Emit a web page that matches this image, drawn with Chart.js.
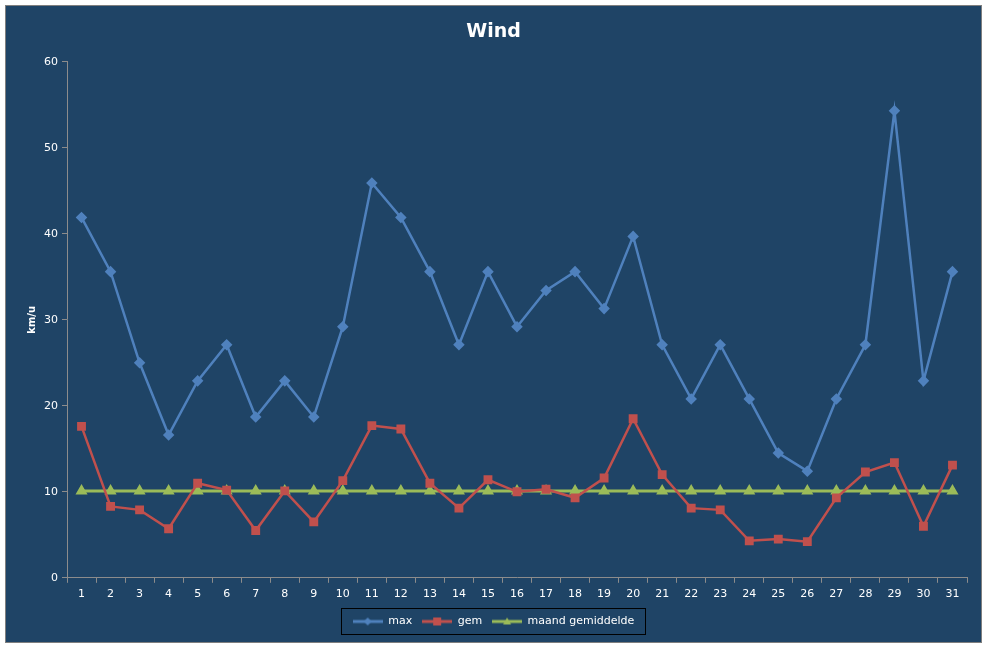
<!DOCTYPE html>
<html>
<head>
<meta charset="utf-8">
<script src="https://cdn.jsdelivr.net/npm/chart.js@4.4.1/dist/chart.umd.min.js"></script>
<style>
  html, body { margin: 0; padding: 0; background: #fff; }
  #wrap { width: 987px; height: 648px; }
</style>
</head>
<body>
<div id="wrap"><canvas id="windChart" width="987" height="648"></canvas></div>
<script>
// ---------- DATA ----------
const days = ['1','2','3','4','5','6','7','8','9','10','11','12','13','14','15','16',
              '17','18','19','20','21','22','23','24','25','26','27','28','29','30','31'];
const maxWind = [41.9, 35.6, 25.0, 16.6, 22.9, 27.1, 18.7, 22.9, 18.7, 29.2, 45.9,
                 41.9, 35.6, 27.1, 35.6, 29.2, 33.4, 35.6, 31.3, 39.7, 27.1, 20.8,
                 27.1, 20.8, 14.5, 12.4, 20.8, 27.1, 54.3, 22.9, 35.6];
const avgWind = [17.6, 8.3, 7.9, 5.7, 11.0, 10.2, 5.5, 10.1, 6.5, 11.3, 17.7,
                 17.3, 11.0, 8.1, 11.4, 10.0, 10.3, 9.3, 11.6, 18.5, 12.0, 8.1,
                 7.9, 4.3, 4.5, 4.2, 9.3, 12.3, 13.4, 6.0, 13.1];
const monthAvg = 10.1;
const monthAvgLine = days.map(() => monthAvg);
const yTicks = [0, 10, 20, 30, 40, 50, 60];

// ---------- COLOURS ----------
const BG = '#1F4466';
const BLUE = '#4F81BD';
const RED = '#C0504D';
const GREEN = '#9BBB59';
const AXIS = '#8C8C8C';

// ---------- LEGEND ICONS (line + marker) ----------
function legendIcon(color, shape) {
    const c = document.createElement('canvas');
    c.width = 30; c.height = 10;
    const ctx = c.getContext('2d');
    ctx.strokeStyle = color;
    ctx.fillStyle = color;
    ctx.lineWidth = 3;
    ctx.beginPath();
    ctx.moveTo(0, 5); ctx.lineTo(30, 5);
    ctx.stroke();
    ctx.beginPath();
    if (shape === 'diamond') {
        ctx.moveTo(15, 1); ctx.lineTo(19, 5); ctx.lineTo(15, 9); ctx.lineTo(11, 5);
    } else if (shape === 'square') {
        ctx.rect(11, 1, 8, 8);
    } else {
        ctx.moveTo(15, 1); ctx.lineTo(19, 8); ctx.lineTo(11, 8);
    }
    ctx.closePath();
    ctx.fill();
    return c;
}

// ---------- PLUGINS ----------
const backgroundPlugin = {
    id: 'bg',
    beforeDraw(chart) {
        const ctx = chart.ctx;
        ctx.save();
        ctx.fillStyle = '#fff';
        ctx.fillRect(0, 0, chart.width, chart.height);
        ctx.fillStyle = BG;
        ctx.fillRect(5, 5, chart.width - 10, chart.height - 10);
        ctx.strokeStyle = '#7f7f7f';
        ctx.lineWidth = 1;
        ctx.strokeRect(5.5, 5.5, chart.width - 11, chart.height - 11);
        ctx.restore();
    }
};

const legendBoxPlugin = {
    id: 'legendBox',
    afterDraw(chart) {
        const boxes = chart.legend.legendHitBoxes;
        if (!boxes || !boxes.length) return;
        const left = Math.min(...boxes.map(b => b.left)) - 12;
        const right = Math.max(...boxes.map(b => b.left + b.width)) + 10;
        const top = Math.min(...boxes.map(b => b.top)) - 8;
        const bottom = Math.max(...boxes.map(b => b.top + b.height)) + 7;
        const ctx = chart.ctx;
        ctx.save();
        ctx.strokeStyle = '#000';
        ctx.lineWidth = 1;
        ctx.strokeRect(Math.round(left) + 0.5, Math.round(top) + 0.5,
                       Math.round(right - left), Math.round(bottom - top));
        ctx.restore();
    }
};

// ---------- CHART ----------
const ctx = document.getElementById('windChart').getContext('2d');
new Chart(ctx, {
    type: 'line',
    data: {
        labels: days,
        datasets: [
            {
                label: 'max',
                data: maxWind,
                borderColor: BLUE,
                backgroundColor: BLUE,
                borderWidth: 2.5,
                pointStyle: 'rectRot',
                pointRadius: 4,
                tension: 0,
                icon: legendIcon(BLUE, 'diamond')
            },
            {
                label: 'gem',
                data: avgWind,
                borderColor: RED,
                backgroundColor: RED,
                borderWidth: 2.5,
                pointStyle: 'rect',
                pointRadius: 4.5,
                tension: 0,
                icon: legendIcon(RED, 'square')
            },
            {
                label: 'maand gemiddelde',
                data: monthAvgLine,
                borderColor: GREEN,
                backgroundColor: GREEN,
                borderWidth: 3,
                pointStyle: 'triangle',
                pointRadius: 4,
                tension: 0,
                icon: legendIcon(GREEN, 'triangle')
            }
        ]
    },
    options: {
        responsive: false,
        animation: false,
        layout: { padding: { left: 20, right: 20, top: 0, bottom: 11 } },
        plugins: {
            title: {
                display: true,
                text: 'Wind',
                color: '#fff',
                font: { family: 'DejaVu Sans', size: 19, weight: 'bold' },
                padding: { top: 21, bottom: 18 }
            },
            legend: {
                position: 'bottom',
                labels: {
                    color: '#fff',
                    font: { family: 'DejaVu Sans', size: 11 },
                    usePointStyle: true,
                    pointStyleWidth: 30,
                    padding: 10,
                    generateLabels(chart) {
                        return chart.data.datasets.map((ds, i) => ({
                            text: ds.label,
                            pointStyle: ds.icon,
                            fontColor: '#fff',
                            lineWidth: 0,
                            datasetIndex: i
                        }));
                    }
                }
            },
            tooltip: { enabled: false }
        },
        scales: {
            x: {
                offset: true,
                grid: { offset: true, drawOnChartArea: false, color: AXIS, tickLength: 5 },
                border: { color: AXIS, width: 1 },
                ticks: {
                    color: '#fff',
                    font: { family: 'DejaVu Sans', size: 11 },
                    maxRotation: 0,
                    autoSkip: false,
                    padding: 5
                }
            },
            y: {
                min: 0,
                max: 60,
                afterFit(scale) { scale.width = 47; },
                afterBuildTicks(scale) { scale.ticks = yTicks.map(v => ({ value: v })); },
                grid: { drawOnChartArea: false, color: AXIS, tickLength: 5 },
                border: { color: AXIS, width: 1 },
                ticks: {
                    color: '#fff',
                    font: { family: 'DejaVu Sans', size: 11 },
                    padding: 4
                },
                title: {
                    display: true,
                    text: 'km/u',
                    color: '#fff',
                    font: { family: 'DejaVu Sans', size: 10, weight: 'bold' },
                    padding: { top: 6, bottom: 0 }
                }
            }
        }
    },
    plugins: [backgroundPlugin, legendBoxPlugin]
});
</script>
</body>
</html>
